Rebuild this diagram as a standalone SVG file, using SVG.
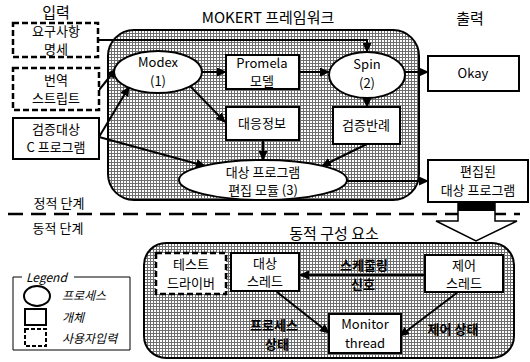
<svg xmlns="http://www.w3.org/2000/svg" width="530" height="362" viewBox="0 0 530 362">
<defs>
<pattern id="hatch" width="3" height="3" patternUnits="userSpaceOnUse">
<rect width="3" height="3" fill="#ffffff"/>
<rect width="3" height="1" fill="#6e6e6e"/>
<rect width="1" height="3" fill="#6e6e6e"/>
</pattern>
<marker id="ah" markerUnits="userSpaceOnUse" markerWidth="10" markerHeight="9" refX="9" refY="4.5" orient="auto">
<path d="M0,0 L10,4.5 L0,9 z" fill="#000"/>
</marker>
<style>
text{font-family:"Noto Sans CJK KR","Noto Sans",sans-serif;font-size:13px;fill:#000;text-anchor:middle}
.title{font-size:15px}
.el{font-weight:bold}
.lg{font-size:12px;font-style:italic;text-anchor:start}
.box{fill:#fff;stroke:#000;stroke-width:2}
.dbox{fill:#fff;stroke:#000;stroke-width:2.5;stroke-dasharray:6 3}
.ell{fill:#fff;stroke:#000;stroke-width:2}
.region{fill:url(#hatch);stroke:#000;stroke-width:2}
.con{fill:none;stroke:#000;stroke-width:2;marker-end:url(#ah)}
</style>
</defs>

<g id="regions">
<rect id="framework" class="region" x="108" y="30" width="311" height="170" rx="26"/>
<rect id="dynamic" class="region" x="144" y="243" width="370" height="115" rx="22"/>
</g>

<g id="labels">
<text x="56" y="18" class="title">입력</text>
<text x="268" y="23" class="title">MOKERT 프레임워크</text>
<text x="470" y="24" class="title">출력</text>
<text x="59" y="208">정적 단계</text>
<text x="58" y="233">동적 단계</text>
<text x="334" y="239" class="title">동적 구성 요소</text>
</g>

<line x1="8" y1="214" x2="520" y2="214" stroke="#000" stroke-width="2.5" stroke-dasharray="15 8"/>

<g id="connectors">
<path class="con" d="M99,40 H367 V52"/>
<path class="con" d="M99,90 L116,69"/>
<path class="con" d="M99,137 L129,87"/>
<path class="con" d="M99,137 L205,166"/>
<path class="con" d="M202,72 L226,72"/>
<path class="con" d="M190,86 L225,122"/>
<path class="con" d="M299,72 L329,72"/>
<path class="con" d="M405,72 L428,72"/>
<path class="con" d="M367,98 L367,107"/>
<path class="con" d="M263,140 L263,160"/>
<path class="con" d="M367,144 L322,166"/>
<path class="con" d="M347,181 L428,181"/>
<path class="con" d="M425,275 L300,275"/>
<path class="con" d="M277,292 L329,333"/>
<path class="con" d="M458,292 L400,336"/>
</g>

<g id="req">
<rect class="dbox" x="13" y="23" width="85" height="34"/>
<text x="56" y="36">요구사항</text>
<text x="56" y="54">명세</text>
</g>
<g id="script">
<rect class="dbox" x="13" y="68" width="86" height="42"/>
<text x="56" y="85">번역</text>
<text x="56" y="103">스트립트</text>
</g>
<g id="cprog">
<rect class="box" x="13" y="118" width="86" height="41"/>
<text x="56" y="134">검증대상</text>
<text x="56" y="152">C 프로그램</text>
</g>
<g id="modex">
<ellipse class="ell" cx="158" cy="72" rx="44" ry="21"/>
<text x="158" y="67">Modex</text>
<text x="158" y="86">(1)</text>
</g>
<g id="promela">
<rect class="box" x="226" y="55" width="73" height="34"/>
<text x="262" y="68">Promela</text>
<text x="262" y="86">모델</text>
</g>
<g id="spin">
<ellipse class="ell" cx="367" cy="75" rx="38" ry="23"/>
<text x="367" y="69">Spin</text>
<text x="367" y="88">(2)</text>
</g>
<g id="okay">
<rect class="box" x="428" y="56" width="91" height="35"/>
<text x="473" y="78">Okay</text>
</g>
<g id="mapping">
<rect class="box" x="226" y="107" width="73" height="33"/>
<text x="262" y="128">대응정보</text>
</g>
<g id="cex">
<rect class="box" x="333" y="107" width="67" height="37"/>
<text x="366" y="130">검증반례</text>
</g>
<g id="editor">
<ellipse class="ell" cx="263" cy="180" rx="84" ry="20"/>
<text x="263" y="177">대상 프로그램</text>
<text x="263" y="195">편집 모듈 (3)</text>
</g>
<g id="edited">
<rect class="box" x="428" y="160" width="100" height="42"/>
<text x="478" y="176">편집된</text>
<text x="478" y="195">대상 프로그램</text>
</g>
<g id="bigarrow">
<polygon points="458,203 495,203 495,221 517,221 476,241 436,221 458,221" fill="#fff" stroke="#000" stroke-width="1.5"/>
<rect x="458" y="203" width="37" height="8" fill="#000"/>
</g>
<g id="testdriver">
<rect class="dbox" x="156" y="253" width="70" height="41"/>
<text x="191" y="269">테스트</text>
<text x="191" y="288">드라이버</text>
</g>
<g id="targetthread">
<rect class="box" x="231" y="253" width="68" height="38"/>
<text x="265" y="268">대상</text>
<text x="265" y="286">스레드</text>
</g>
<g id="ctrlthread">
<rect class="box" x="425" y="255" width="78" height="37"/>
<text x="464" y="270">제어</text>
<text x="464" y="288">스레드</text>
</g>
<g id="monitor">
<rect class="box" x="329" y="314" width="72" height="39"/>
<text x="365" y="329">Monitor</text>
<text x="365" y="348">thread</text>
</g>
<g id="edgelabels">
<text x="364" y="270" class="el">스케줄링</text>
<text x="363" y="289" class="el">신호</text>
<text x="274" y="330" class="el">프로세스</text>
<text x="277" y="349" class="el">상태</text>
<text x="453" y="334" class="el">제어 상태</text>
</g>
<g id="legend">
<path d="M22,277 H13 V350 H130 V277 H74" fill="none" stroke="#000" stroke-width="1"/>
<text x="26" y="282" class="lg">Legend</text>
<ellipse cx="37" cy="296" rx="13" ry="10" fill="#fff" stroke="#000" stroke-width="2"/>
<rect x="25" y="309" width="21" height="16" fill="#fff" stroke="#000" stroke-width="2"/>
<rect x="25" y="329" width="21" height="17" fill="#fff" stroke="#000" stroke-width="2" stroke-dasharray="4 2"/>
<text x="62" y="300" class="lg">프로세스</text>
<text x="62" y="322" class="lg">개체</text>
<text x="62" y="343" class="lg">사용자입력</text>
</g>
</svg>
